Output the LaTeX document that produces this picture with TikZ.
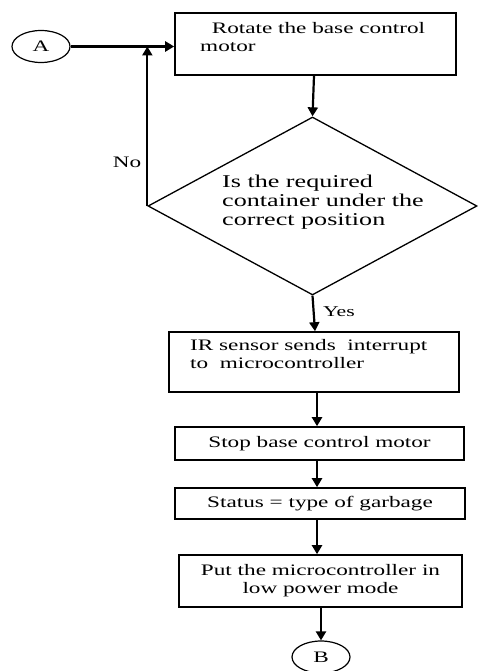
\documentclass[tikz,border=0pt]{standalone}
\usepackage{fontspec}
\setmainfont{Liberation Serif}[FakeStretch=1.45]
\usetikzlibrary{shapes.geometric,arrows.meta}
\tikzset{
  boxnode/.style={draw, line width=1.6pt, minimum width=#1, inner sep=0pt},
  ovalnode/.style={draw, ellipse, line width=1.2pt, minimum width=58pt, minimum height=32pt, inner sep=0pt, font=\fontsize{16}{18}\selectfont},
  txt/.style={inner sep=0pt, font=\fontsize{16}{18}\selectfont},
  arr/.style={line width=2.2pt, -{Triangle[length=9pt,width=10pt]}},
}
\begin{document}
\begin{tikzpicture}[x=1pt,y=-1pt]
\useasboundingbox (0,0) rectangle (478,671);
% shapes
\node[ovalnode] (A) at (41,46.5) {A};
\node[boxnode=281pt, minimum height=62pt] (r1) at (315.5,44) {};
\node[txt, anchor=west, align=left] (r1t) at (200,37) {\ \ Rotate the base control\\motor};
\node[draw, diamond, line width=1.3pt, minimum width=329pt, minimum height=178pt, inner sep=0pt] (d) at (312.5,206) {};
\node[inner sep=0pt, anchor=west, align=left, font=\fontsize{18}{19}\selectfont] (dt) at (222,202) {Is the required\\container under the\\correct position};
\node[boxnode=290pt, minimum height=60pt] (ir) at (314,362) {};
\node[txt, anchor=west, align=left] (irt) at (190,354) {IR sensor sends\ \ interrupt\\to\ \ microcontroller};
\node[boxnode=289pt, minimum height=33pt, txt] (stop) at (319.5,443.5) {Stop base control motor};
\node[boxnode=290pt, minimum height=31pt, txt] (status) at (320,503.5) {Status = type of garbage};
\node[boxnode=283pt, minimum height=52pt, txt, align=center] (put) at (320.5,581) {Put the microcontroller in\\low power mode};
\node[ovalnode] (B) at (321,657) {B};
% labels
\node[txt] (no) at (127,162) {No};
\node[txt, font=\fontsize{15}{17}\selectfont] (yes) at (339,312) {Yes};
% connector x positions
\coordinate (x1) at (314,0);
\coordinate (x2) at (315,0);
\coordinate (x3) at (317,0);
\coordinate (x4) at (321,0);
% connectors
\draw[arr] (A.east) -- (A.east -| r1.west);
\draw[arr] (r1.south -| x1) -- (d.north);
\draw[arr] (d.west) -- (d.west |- A.east);
\draw[arr] (d.south) -- (ir.north -| x2);
\draw[arr] (ir.south -| x3) -- (stop.north -| x3);
\draw[arr] (stop.south -| x3) -- (status.north -| x3);
\draw[arr] (status.south -| x3) -- (put.north -| x3);
\draw[arr] (put.south -| x4) -- (B.north);
\end{tikzpicture}
\end{document}
